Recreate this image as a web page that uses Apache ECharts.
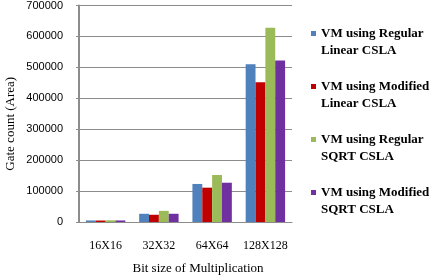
<!DOCTYPE html>
<html>
<head>
<meta charset="UTF-8">
<style>
  html, body { margin: 0; padding: 0; background: #fff; }
  #chart { width: 447px; height: 280px; }
</style>
</head>
<body>
<div id="chart"></div>
<script src="https://cdn.jsdelivr.net/npm/echarts@6/dist/echarts.min.js"></script>
<script>
var categories = ['16X16', '32X32', '64X64', '128X128'];
var seriesNames = [
  'VM using Regular Linear CSLA',
  'VM using Modified Linear CSLA',
  'VM using Regular SQRT CSLA',
  'VM using Modified SQRT CSLA'
];
var regularLinear = [5000, 26600, 123000, 510000];
var modifiedLinear = [4800, 23400, 111000, 452000];
var regularSqrt = [5500, 36000, 152000, 628000];
var modifiedSqrt = [5000, 26600, 127000, 522000];
var yTicks = [0, 100000, 200000, 300000, 400000, 500000, 600000, 700000];

var colors = ['#4F81BD', '#C00000', '#9BBB59', '#7030A0'];
var values = [regularLinear, modifiedLinear, regularSqrt, modifiedSqrt];

var chart = echarts.init(document.getElementById('chart'));

var series = [];
for (var i = 0; i < seriesNames.length; i++) {
  series.push({
    name: seriesNames[i],
    type: 'bar',
    data: values[i],
    barGap: '0%',
    barCategoryGap: '26%',
    itemStyle: { color: colors[i] }
  });
}

chart.setOption({
  animation: false,
  color: colors,
  grid: { left: 79, right: 155, top: 5, bottom: 56 },
  legend: {
    orient: 'vertical',
    left: 306,
    top: 3,
    itemWidth: 5,
    itemHeight: 5,
    itemGap: 2,
    icon: 'rect',
    textStyle: {
      fontFamily: 'Liberation Serif',
      fontSize: 13,
      fontWeight: 'bold',
      color: '#000',
      lineHeight: 17,
      rich: {
        s: { lineHeight: 17, fontSize: 13 }
      }
    },
    // spacer line on top keeps the marker level with the first text line
    formatter: function (name) {
      return '{s| }\n' + name.replace(/ (Linear|SQRT)/, '\n$1');
    }
  },
  xAxis: {
    type: 'category',
    data: categories,
    name: 'Bit size of Multiplication',
    nameLocation: 'middle',
    nameGap: 40,
    nameTextStyle: {
      fontFamily: 'Liberation Serif',
      fontSize: 13,
      color: '#000',
      padding: [0, 0, 0, 25]
    },
    axisLine: { lineStyle: { color: '#8c8c8c', width: 1 } },
    axisTick: { show: false },
    axisLabel: {
      interval: 0,
      fontFamily: 'Liberation Serif',
      fontSize: 12,
      color: '#000',
      margin: 18
    }
  },
  yAxis: {
    type: 'value',
    min: 0,
    max: 700000,
    interval: 100000,
    name: 'Gate count (Area)',
    nameLocation: 'middle',
    nameGap: 62,
    nameTextStyle: {
      fontFamily: 'Liberation Serif',
      fontSize: 13,
      color: '#000',
      padding: [0, 20, 0, 0]
    },
    axisLine: { show: true, lineStyle: { color: '#8c8c8c', width: 2 } },
    axisTick: { show: true, length: 3, lineStyle: { color: '#8c8c8c' } },
    splitLine: { lineStyle: { color: '#8c8c8c', width: 1 } },
    axisLabel: {
      fontFamily: 'Liberation Sans',
      fontSize: 11,
      color: '#000',
      margin: 16,
      formatter: function (v) {
        return yTicks.indexOf(v) >= 0 ? String(v) : '';
      }
    }
  },
  series: series
});
</script>
</body>
</html>
